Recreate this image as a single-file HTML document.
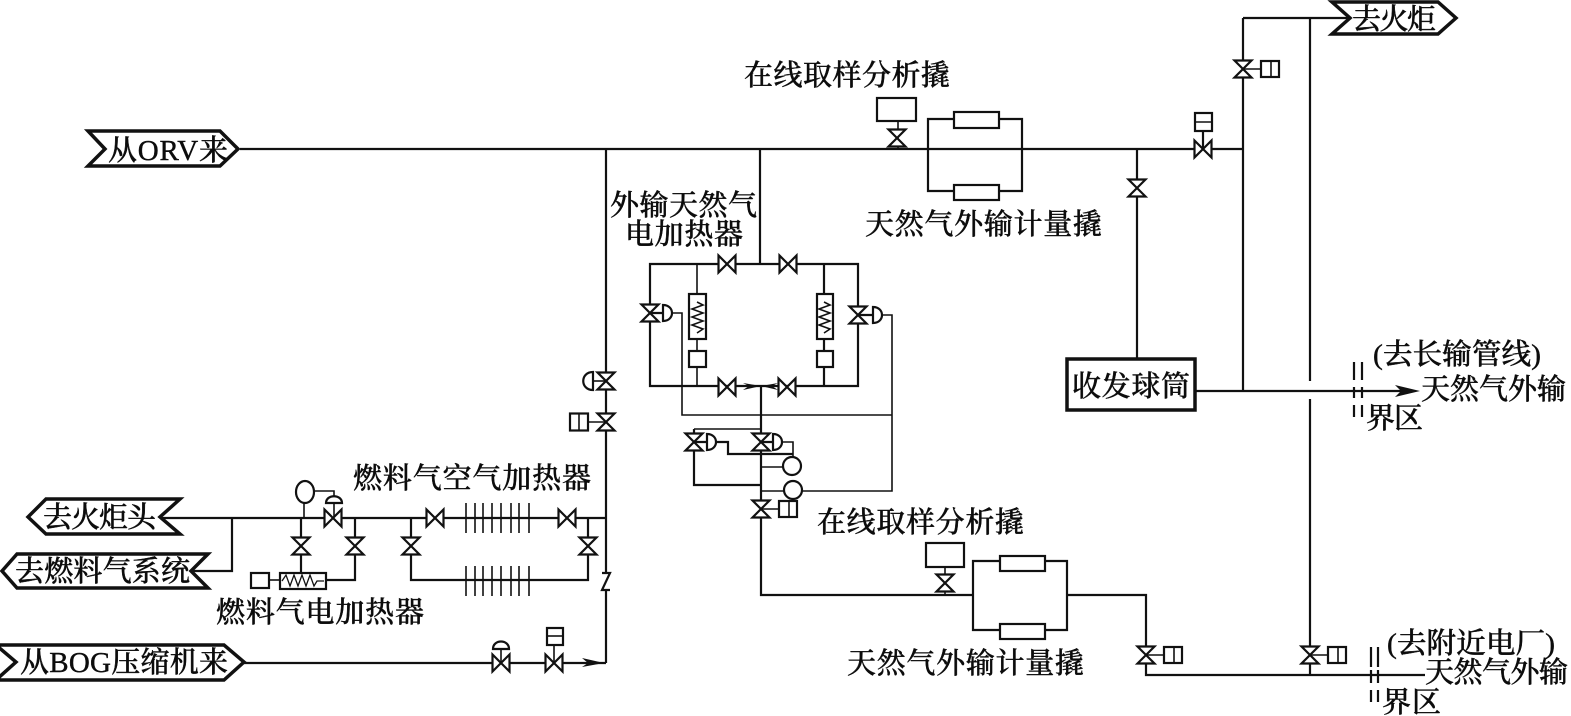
<!DOCTYPE html>
<html lang="zh">
<head>
<meta charset="utf-8">
<title>天然气外输流程图</title>
<style>
html,body{margin:0;padding:0;background:#fff;width:1571px;height:716px;overflow:hidden}
svg{display:block}
text{font-family:"Liberation Serif","Noto Serif CJK SC",serif;font-size:29px;fill:#0c0c0c;stroke:#0c0c0c;stroke-width:.4;font-weight:500}
.p{fill:none;stroke:#111;stroke-width:2.2}
.t{fill:none;stroke:#111;stroke-width:1.6}
.b{fill:#fff;stroke:#111;stroke-width:2.2}
.tag{fill:#fff;stroke:#111;stroke-width:3.5}
</style>
</head>
<body>
<svg width="1571" height="716" viewBox="0 0 1571 716" xmlns="http://www.w3.org/2000/svg">
<defs>
<path id="vv" d="M-8.5,-8.5H8.5L-8.5,8.5H8.5Z" fill="#fff" stroke="#111" stroke-width="2.2"/>
<path id="vh" d="M-8.5,-8.5V8.5L8.5,-8.5V8.5Z" fill="#fff" stroke="#111" stroke-width="2.2"/>
<g id="boxr"><path d="M0,0H20" class="t"/><rect x="18" y="-8" width="18" height="16" class="b"/><path d="M28,-8V8" class="t"/></g>
<path id="dr" d="M0,-8C12,-8 12,8 0,8Z" fill="#fff" stroke="#111" stroke-width="2.2"/>
<g id="fins"><path class="t" d="M466,0V30M475,0V30M483,0V30M492,0V30M501,0V30M511,0V30M519,0V30M529,0V30"/></g>
<path id="zz" d="M0,0l6,3l-11,4l11,4l-11,4l11,4l-11,4l11,4l-6,4" fill="none" stroke="#111" stroke-width="1.6"/>
</defs>

<!-- main piping -->
<path class="p" d="M240,149H1243M606,149V573M606,590V663M1243,18V391M1243,18H1350"/>
<path class="p" d="M1310,18V381M1310,399V655"/>
<path class="p" d="M1195,391H1405"/>
<path d="M1395,385L1420,391L1395,397L1401,391Z" fill="#111"/>
<path class="p" d="M1137,149V358"/>
<path class="p" d="M760,149V264M761,386V595H973"/>
<path class="p" d="M1067,595H1146V675H1425M1310,655V675"/>

<!-- upper meter skid -->
<path class="p" d="M928,119H1022V191H928Z"/>
<rect x="954" y="112" width="45" height="16" class="b"/>
<rect x="954" y="185" width="45" height="15" class="b"/>
<rect x="877" y="98" width="39" height="23" class="b"/>
<path class="t" d="M898,121V149"/>
<use href="#vv" x="897" y="138"/>

<!-- lower meter skid -->
<path class="p" d="M973,561H1067V630H973Z"/>
<rect x="1000" y="556" width="45" height="15" class="b"/>
<rect x="1000" y="624" width="45" height="15" class="b"/>
<rect x="926" y="543" width="38" height="24" class="b"/>
<path class="t" d="M945,567V595"/>
<use href="#vv" x="945" y="583"/>

<!-- right side valves -->
<use href="#boxr" x="1243" y="69"/><use href="#vv" x="1243" y="69"/>
<path class="p" d="M1203,131V149"/>
<rect x="1195" y="113" width="17" height="18" class="b"/><path class="t" d="M1195,122H1212"/>
<use href="#vh" x="1203" y="149"/>
<use href="#vv" x="1137" y="188"/>
<rect x="1067" y="359" width="128" height="51" fill="#fff" stroke="#111" stroke-width="3.5"/>
<use href="#boxr" x="1146" y="655"/><use href="#vv" x="1146" y="655"/>
<use href="#boxr" x="1310" y="655"/><use href="#vv" x="1310" y="655"/>

<!-- battery limit dashes -->
<path class="p" d="M1354,362V380M1354,387V398M1354,405V417M1362,362V380M1362,387V398M1362,405V417"/>
<path class="p" d="M1371,647V667M1371,670V683M1371,690V702M1378,647V667M1378,670V683M1378,690V702"/>

<!-- electric heater loop -->
<path class="p" d="M650,264H858V386H650Z"/>
<path class="t" d="M697,264V386"/>
<path class="p" d="M824,264V386"/>
<rect x="689" y="294" width="17" height="45" class="b"/>
<rect x="817" y="294" width="16" height="45" class="b"/>
<use href="#zz" x="697" y="302"/>
<use href="#zz" x="824" y="302"/>
<rect x="689" y="351" width="17" height="16" class="b"/>
<rect x="817" y="351" width="16" height="16" class="b"/>
<use href="#vh" x="727" y="264"/>
<use href="#vh" x="788" y="264"/>
<use href="#vh" x="727" y="387"/>
<use href="#vh" x="787" y="387"/>
<path d="M743,383L761,386L743,390L749,386ZM778,383L761,386L778,390L772,386Z" fill="#111"/>
<path class="p" d="M650,313H664M858,315H873"/>
<use href="#vv" x="650" y="313"/>
<use href="#dr" x="663" y="313"/>
<use href="#vv" x="858" y="315"/>
<use href="#dr" x="873" y="315"/>
<path class="t" d="M672,313H682V415H892M881,315H892V491H802"/>

<!-- lower control valves -->
<path class="t" d="M694,429H761"/>
<path class="p" d="M694,429V485H761"/>
<path class="p" d="M694,442H707M761,442H774"/>
<use href="#vv" x="694" y="442"/>
<use href="#vv" x="761" y="442"/>
<use href="#dr" x="707" y="442"/>
<use href="#dr" x="773" y="442"/>
<path class="p" d="M716,442H728V454H793"/>
<path class="t" d="M782,442H793V458M761,467H783M761,491H784"/>
<circle cx="792" cy="466" r="9" class="b"/>
<circle cx="793" cy="490" r="9" class="b"/>
<use href="#boxr" x="761" y="509"/><use href="#vv" x="761" y="509"/>

<!-- left column valves -->
<path d="M593,372C580,372 580,390 593,390Z" fill="#fff" stroke="#111" stroke-width="2.2"/>
<path class="t" d="M593,381H606"/>
<use href="#vv" x="606" y="381"/>
<path class="t" d="M588,422H606"/>
<rect x="570" y="413.500" width="18" height="17" class="b"/><path class="t" d="M579,414V430"/>
<use href="#vv" x="606" y="422"/>

<!-- check valve -->
<path class="p" d="M602,573H610L602,590H610"/>

<!-- fuel gas -->
<path class="p" d="M161,518H606M191,571H232V518"/>
<path class="p" d="M301,518V573M355,518V580H326"/>
<path class="p" d="M411,518V580H588V518"/>
<use href="#fins" x="0" y="503"/>
<use href="#fins" x="0" y="566"/>
<ellipse cx="305" cy="492" rx="9" ry="11" class="b"/>
<path class="t" d="M304,503V518M314,491H334V498"/>
<path d="M326,503C326,494 342,494 342,503Z" fill="#fff" stroke="#111" stroke-width="2.2"/>
<path class="t" d="M334,503V518"/>
<use href="#vh" x="333" y="518"/>
<use href="#vv" x="301" y="546"/>
<use href="#vv" x="355" y="546"/>
<use href="#vv" x="411" y="546"/>
<use href="#vv" x="588" y="546"/>
<use href="#vh" x="435" y="518"/>
<use href="#vh" x="567" y="518"/>
<rect x="280" y="573" width="46" height="16" class="b"/>
<path d="M282,581l4,-6l4,11l4,-11l4,11l4,-11l4,11l4,-11l4,11l3,-5h7" fill="none" stroke="#111" stroke-width="1.3"/>
<rect x="251" y="573" width="18" height="15" class="b"/>
<path class="t" d="M269,580H280"/>

<!-- BOG -->
<path class="p" d="M244,663H606"/>
<path d="M582,658L604,663L582,667L588,663Z" fill="#111"/>
<path class="t" d="M501,649V663M554,645V663"/>
<path d="M493,649C493,639 509,639 509,649Z" fill="#fff" stroke="#111" stroke-width="2.2"/>
<rect x="547" y="628" width="16" height="17" class="b"/><path class="t" d="M547,636H563"/>
<use href="#vh" x="501" y="663"/>
<use href="#vh" x="554" y="663"/>

<!-- tags -->
<path class="tag" d="M88,131H220L238,149L220,166H88L105,149Z"/>
<path class="tag" d="M1332,2H1438L1456,18L1438,34H1332L1350,18Z"/>
<path class="tag" d="M28,517L46,499H180L160,517L180,534H46Z"/>
<path class="tag" d="M2,571L17,554H208L191,571L208,588H17Z"/>
<path class="tag" d="M-4,645H224L244,662L224,680H-4L16,662Z"/>

<!-- labels -->
<text x="108" y="160" textLength="120" lengthAdjust="spacing">从ORV来</text>
<text x="1352" y="29" textLength="84" lengthAdjust="spacing">去火炬</text>
<text x="43" y="527" textLength="113" lengthAdjust="spacing">去火炬头</text>
<text x="15" y="581" textLength="175" lengthAdjust="spacing">去燃料气系统</text>
<text x="20" y="672" textLength="208" lengthAdjust="spacing">从BOG压缩机来</text>
<text x="744" y="85" textLength="206" lengthAdjust="spacing">在线取样分析撬</text>
<text x="610" y="215" textLength="147" lengthAdjust="spacing">外输天然气</text>
<text x="625" y="244" textLength="118" lengthAdjust="spacing">电加热器</text>
<text x="865" y="234" textLength="237" lengthAdjust="spacing">天然气外输计量撬</text>
<text x="1072" y="396" textLength="118" lengthAdjust="spacing">收发球筒</text>
<text x="1373" y="364" textLength="168" lengthAdjust="spacingAndGlyphs">(去长输管线)</text>
<text x="1421" y="399" textLength="145" lengthAdjust="spacing">天然气外输</text>
<text x="1366" y="428" textLength="57" lengthAdjust="spacing">界区</text>
<text x="1387" y="653" textLength="168" lengthAdjust="spacingAndGlyphs">(去附近电厂)</text>
<text x="1425" y="682" textLength="143" lengthAdjust="spacing">天然气外输</text>
<text x="1382" y="712" textLength="59" lengthAdjust="spacing">界区</text>
<text x="817" y="532" textLength="207" lengthAdjust="spacing">在线取样分析撬</text>
<text x="847" y="673" textLength="237" lengthAdjust="spacing">天然气外输计量撬</text>
<text x="216" y="622" textLength="208" lengthAdjust="spacing">燃料气电加热器</text>
<text x="353" y="488" textLength="238" lengthAdjust="spacing">燃料气空气加热器</text>
</svg>
</body>
</html>
